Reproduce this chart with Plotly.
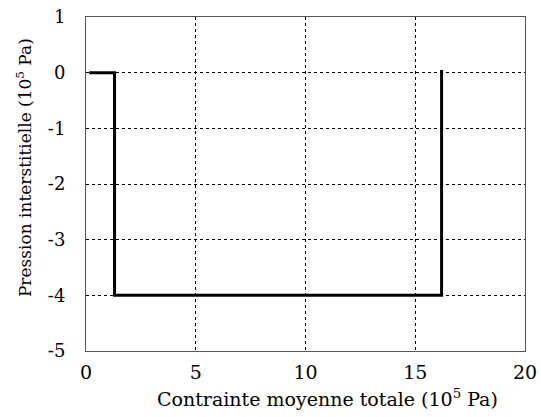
import plotly.graph_objects as go

# path of the pore pressure vs total mean stress
contrainte = [0.15, 1.3, 1.3, 16.2, 16.2]
pression = [0.0, 0.0, -4.0, -4.0, 0.05]

x_ticks = [0, 5, 10, 15, 20]
y_ticks = [1, 0, -1, -2, -3, -4, -5]
y_labels = ['1', '0', '-1', '-2', '-3', '-4', '-5']

SERIF = 'DejaVu Serif'

fig = go.Figure()

fig.add_trace(go.Scatter(
    x=contrainte,
    y=pression,
    mode='lines',
    line=dict(color='black', width=3),
    showlegend=False
))

axis_common = dict(
    showgrid=True,
    gridcolor='black',
    griddash='dot',
    gridwidth=1,
    zeroline=False,
    showline=True,
    linecolor='#555',
    linewidth=1,
    mirror=True,
    ticks='',
    automargin=False,
)

fig.update_layout(
    width=541, height=417,
    margin=dict(l=86, r=16, t=17, b=66),
    plot_bgcolor='white',
    paper_bgcolor='white',
    font=dict(family=SERIF, color='black'),
    xaxis=dict(
        range=[0, 20],
        tickvals=x_ticks,
        ticklabelstandoff=4,
        tickfont=dict(family=SERIF, size=19, color='black'),
        **axis_common
    ),
    yaxis=dict(
        range=[-5, 1],
        tickvals=y_ticks,
        ticktext=y_labels,
        ticklabelstandoff=16,
        tickfont=dict(family=SERIF, size=18, color='black'),
        **axis_common
    ),
)

# axis titles as annotations: both sit off-centre in the original
fig.add_annotation(
    text='Contrainte moyenne totale (10<sup>5</sup> Pa)',
    xref='paper', yref='paper', x=0.55, y=-0.14,
    xanchor='center', yanchor='middle', showarrow=False,
    font=dict(family=SERIF, size=19, color='black')
)
fig.add_annotation(
    text='Pression interstitielle (10<sup>5</sup> Pa)',
    xref='paper', yref='paper', x=-0.141, y=0.548,
    xanchor='center', yanchor='middle', showarrow=False,
    textangle=-90,
    font=dict(family=SERIF, size=17, color='black')
)

# remove default page margin so the figure sits at the window origin
fig.write_html("out.html", config={'displayModeBar': False},
               post_script="document.body.style.margin='0';")
